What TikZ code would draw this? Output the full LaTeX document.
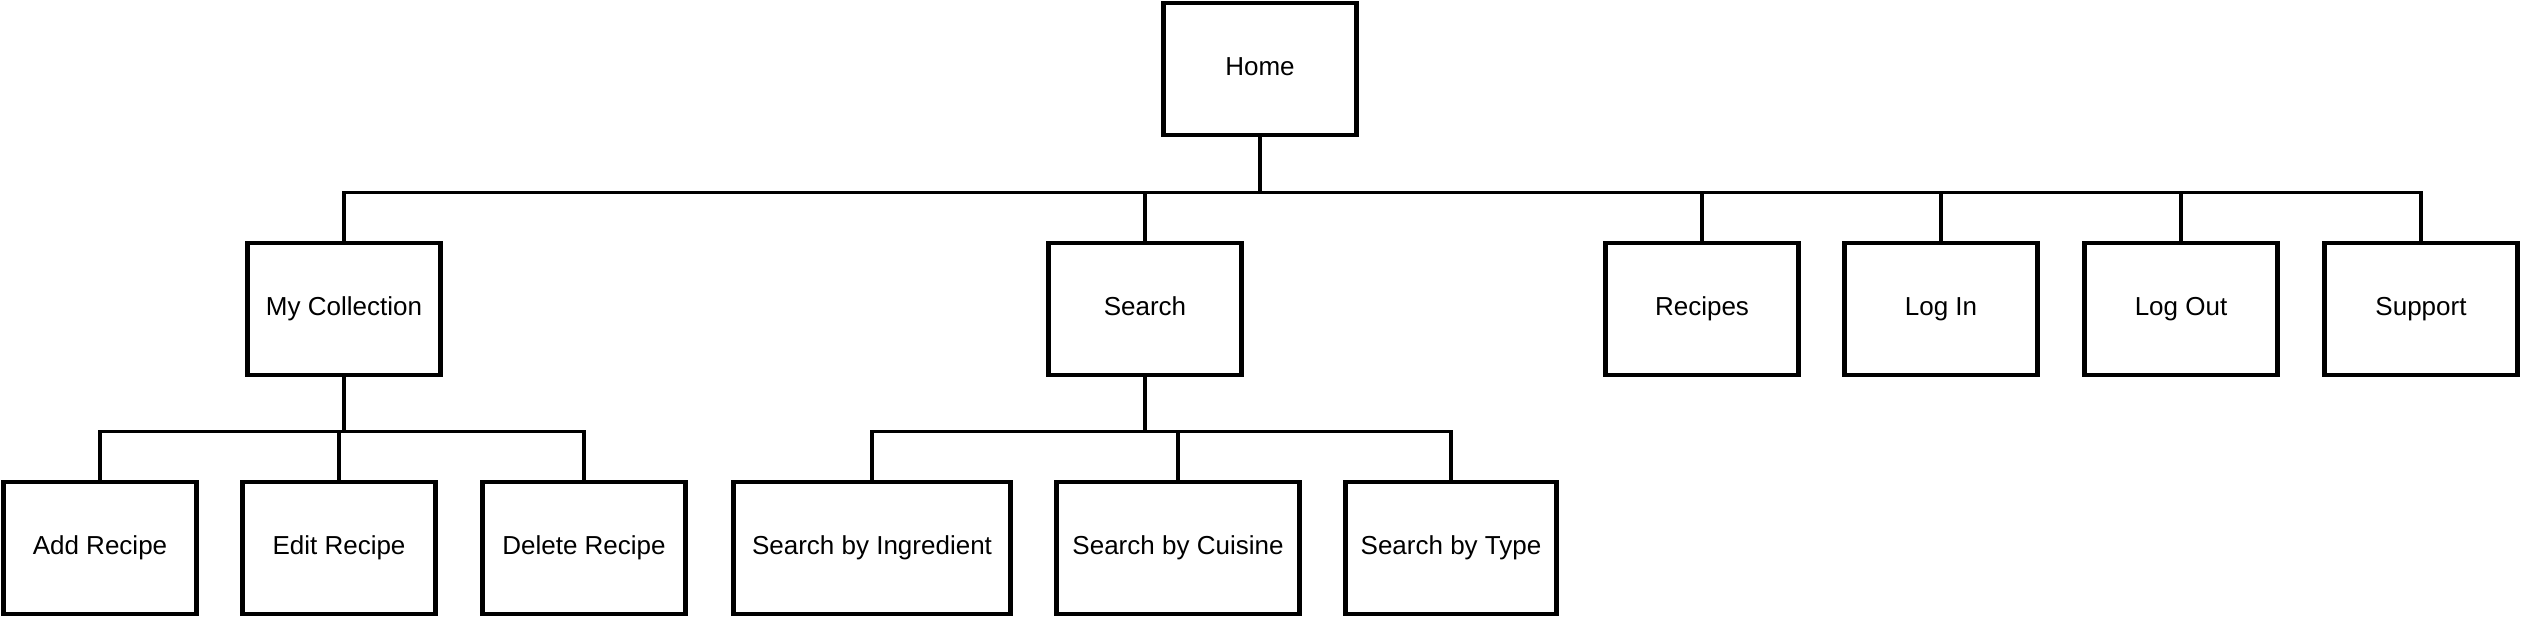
\documentclass[tikz,border=0pt]{standalone}
\usepackage{fontspec}
\setmainfont{Liberation Sans}
\usepackage{tikz}
\usetikzlibrary{positioning}

\begin{document}
\begin{tikzpicture}[every node/.style={font=\fontsize{7.4}{9}\selectfont,align=center},page/.style={draw=black,line width=1.3pt,fill=white,minimum width=#1,minimum height=1.32cm,inner sep=0pt,text height=1.35ex,text depth=0.6ex},page/.default=1.93cm,link/.style={draw=black,line width=0.9pt}]
\useasboundingbox (0,0) rectangle (25.22,6.20);
\node[page] (home) at (12.60,5.51) {Home};
% second level
\node[page] (collection) at (3.44,3.11) {My Collection};
\node[page] (search) at (11.45,3.11) {Search};
\node[page] (recipes) at (17.02,3.11) {Recipes};
\node[page] (login) at (19.41,3.11) {Log In};
\node[page] (logout) at (21.81,3.11) {Log Out};
\node[page] (support) at (24.21,3.11) {Support};
% third level
\node[page] (addrecipe) at (1.00,0.72) {Add Recipe};
\node[page] (editrecipe) at (3.39,0.72) {Edit Recipe};
\node[page=2.03cm] (deleterecipe) at (5.84,0.72) {Delete Recipe};
\node[page=2.77cm] (byingredient) at (8.72,0.72) {Search by Ingredient};
\node[page=2.43cm] (bycuisine) at (11.78,0.72) {Search by Cuisine};
\node[page=2.11cm] (bytype) at (14.51,0.72) {Search by Type};
% connectors
\foreach \child in {collection,search,recipes,login,logout,support}
  \draw[link] (home.south) -- ++(0,-0.55) -| (\child.north);
\foreach \child in {addrecipe,editrecipe,deleterecipe}
  \draw[link] (collection.south) -- ++(0,-0.54) -| (\child.north);
\foreach \child in {byingredient,bycuisine,bytype}
  \draw[link] (search.south) -- ++(0,-0.54) -| (\child.north);
\end{tikzpicture}
\end{document}
